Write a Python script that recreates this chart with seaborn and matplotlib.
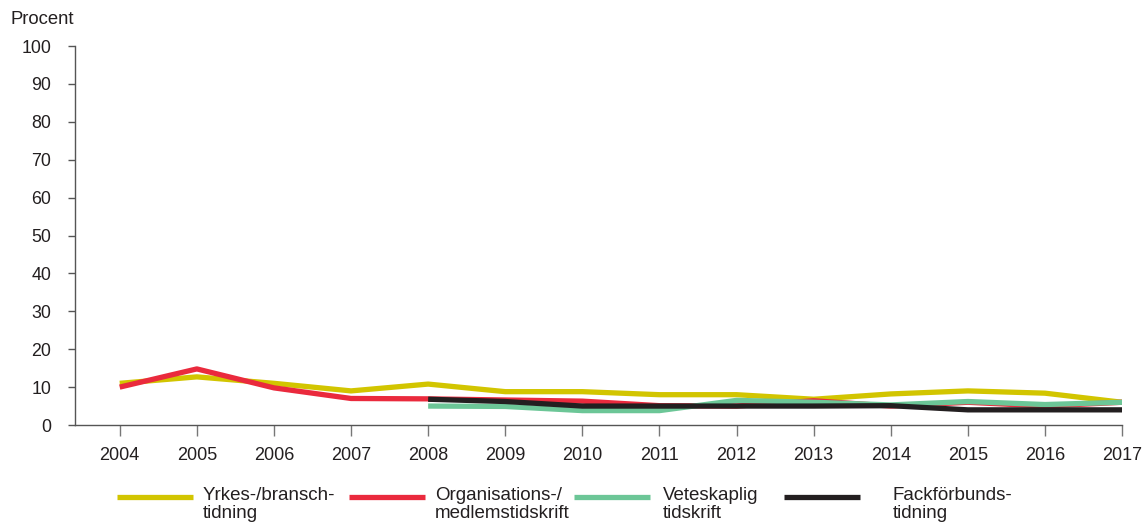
import numpy as np
import pandas as pd
import matplotlib
matplotlib.use("Agg")
import matplotlib.pyplot as plt
from matplotlib.lines import Line2D
import seaborn as sns

years = list(range(2004, 2018))
yrkes = [11, 12.7, 11, 9, 10.8, 8.8, 8.8, 8, 8, 6.8, 8.2, 9, 8.4, 6]
organisation = [10, 14.8, 9.8, 7, 6.9, 6.6, 6.3, 5.1, 5, 6.4, 5, 6, 5, 6]
veteskaplig = [None, None, None, None, 5, 4.9, 3.8, 3.8, 6.5, 6, 5.3, 6.2, 5.4, 6]
fackforbund = [None, None, None, None, 6.8, 6.2, 5, 5, 5, 5, 5.1, 4, 4, 4]

labels = ["Yrkes-/bransch-\ntidning", "Organisations-/\nmedlemstidskrift",
          "Veteskaplig\ntidskrift", "Fackförbunds-\ntidning"]
colors = ["#d2c500", "#ea2a3d", "#6cc697", "#231f20"]
series = [yrkes, organisation, veteskaplig, fackforbund]
yticks = list(range(0, 101, 10))

rows = []
for lab, vals in zip(labels, series):
    for y, v in zip(years, vals):
        if v is not None:
            rows.append({"year": y, "value": v, "serie": lab})
df = pd.DataFrame(rows)

sns.set_theme(style="white")
plt.rcParams["font.family"] = ["Liberation Sans", "DejaVu Sans"]

fig = plt.figure(figsize=(11.45, 5.26), dpi=100)
ax = fig.add_axes([0.0655, 0.192, 0.9145, 0.7205])

sns.lineplot(data=df, x="year", y="value", hue="serie", hue_order=labels,
             palette=colors, linewidth=3.8, ax=ax, legend=False,
             solid_capstyle="butt")

ax.set_xlim(2003.42, 2017)
ax.set_ylim(0, 100)
ax.set_xticks(years)
ax.set_xticklabels([str(y) for y in years])
ax.set_yticks(yticks)
ax.set_xlabel("")
ax.set_ylabel("")
for s in ["top", "right"]:
    ax.spines[s].set_visible(False)
for s in ["left", "bottom"]:
    ax.spines[s].set_color("#555555")
    ax.spines[s].set_linewidth(1.0)
ax.tick_params(axis="x", direction="out", length=8, width=1, color="#777777",
               labelsize=13, labelcolor="#231f20", pad=8)
ax.tick_params(axis="y", direction="out", length=5, width=1, color="#555555",
               labelsize=12.8, labelcolor="#231f20", pad=12)
ax.tick_params(axis="both", which="both", bottom=True, left=True)

fig.text(10 / 1145, 1 - 19 / 526, "Procent", fontsize=13.3, color="#231f20",
         va="center", ha="left")

# legend
leg_x = [117, 349, 574, 784]
text_x = [203, 435, 663, 893]
ly = 1 - 497 / 526
for lx, tx, lab, c in zip(leg_x, text_x, labels, colors):
    fig.add_artist(Line2D([lx / 1145, (lx + 76) / 1145], [ly, ly], color=c,
                          linewidth=3.8, transform=fig.transFigure,
                          solid_capstyle="butt"))
    fig.text(tx / 1145, 1 - 487 / 526, lab, fontsize=13.5, color="#231f20",
             ha="left", va="top", linespacing=1.05)

fig.savefig("out.png", dpi=100)
